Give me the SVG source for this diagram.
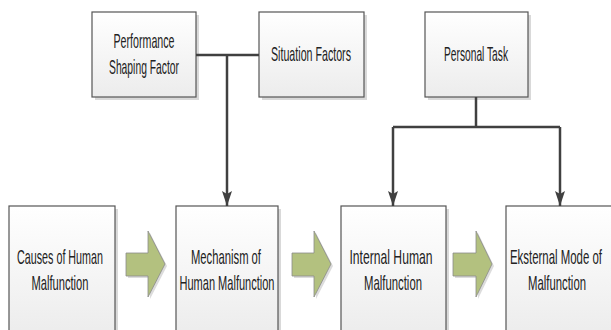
<svg xmlns="http://www.w3.org/2000/svg" width="611" height="330" viewBox="0 0 611 330">
<defs>
<linearGradient id="boxfill" x1="0" y1="0" x2="0" y2="1">
<stop offset="0" stop-color="#ffffff"/>
<stop offset="1" stop-color="#ececec"/>
</linearGradient>
<marker id="ahd" markerUnits="userSpaceOnUse" markerWidth="10" markerHeight="16" refX="5" refY="15" viewBox="0 0 10 16" orient="0">
<path d="M0,0 L5,3 L10,0 L5,15 Z" fill="#404040"/>
</marker>
</defs>
<style>
.box{fill:url(#boxfill);stroke:#555555;stroke-width:1.2}
.shadow{fill:#d9d9d9}
.lbl{font-family:"Liberation Sans",Arial,sans-serif;font-size:21px;fill:#222222;text-anchor:middle}
.conn{fill:none;stroke:#404040;stroke-width:2.5}
.garrow{fill:#b3c17f;stroke:#8a8a8a;stroke-width:0.8}
.gshadow{fill:#dcdcdc}
</style>
<rect width="611" height="330" fill="#ffffff"/>

<g id="performance-shaping-factor">
<rect class="shadow" x="95" y="15" width="104" height="85"/>
<rect class="box" x="92" y="12" width="104" height="85"/>
<text class="lbl" x="144" y="48" textLength="61" lengthAdjust="spacingAndGlyphs">Performance</text>
<text class="lbl" x="144" y="74" textLength="70" lengthAdjust="spacingAndGlyphs">Shaping Factor</text>
</g>

<g id="situation-factors">
<rect class="shadow" x="262" y="15" width="105" height="85"/>
<rect class="box" x="259" y="12" width="105" height="85"/>
<text class="lbl" x="311" y="61" textLength="80" lengthAdjust="spacingAndGlyphs">Situation Factors</text>
</g>

<g id="personal-task">
<rect class="shadow" x="428" y="15" width="103" height="85"/>
<rect class="box" x="425" y="12" width="103" height="85"/>
<text class="lbl" x="476" y="61" textLength="64" lengthAdjust="spacingAndGlyphs">Personal Task</text>
</g>

<g id="causes-of-human-malfunction">
<rect class="shadow" x="12" y="209" width="106" height="130"/>
<rect class="box" x="9" y="206" width="106" height="130"/>
<text class="lbl" x="60" y="264" textLength="86" lengthAdjust="spacingAndGlyphs">Causes of Human</text>
<text class="lbl" x="60" y="290" textLength="57" lengthAdjust="spacingAndGlyphs">Malfunction</text>
</g>

<g id="mechanism-of-human-malfunction">
<rect class="shadow" x="179" y="209" width="102" height="130"/>
<rect class="box" x="176" y="206" width="102" height="130"/>
<text class="lbl" x="226" y="264" textLength="70" lengthAdjust="spacingAndGlyphs">Mechanism of</text>
<text class="lbl" x="227" y="290" textLength="95" lengthAdjust="spacingAndGlyphs">Human Malfunction</text>
</g>

<g id="internal-human-malfunction">
<rect class="shadow" x="344" y="209" width="105" height="130"/>
<rect class="box" x="341" y="206" width="105" height="130"/>
<text class="lbl" x="391" y="264" textLength="83" lengthAdjust="spacingAndGlyphs">Internal Human</text>
<text class="lbl" x="393" y="290" textLength="58" lengthAdjust="spacingAndGlyphs">Malfunction</text>
</g>

<g id="eksternal-mode-of-malfunction">
<rect class="shadow" x="509" y="209" width="107" height="130"/>
<rect class="box" x="506" y="206" width="107" height="130"/>
<text class="lbl" x="556" y="264" textLength="92" lengthAdjust="spacingAndGlyphs">Eksternal Mode of</text>
<text class="lbl" x="557" y="290" textLength="58" lengthAdjust="spacingAndGlyphs">Malfunction</text>
</g>

<g id="flow-arrows">
<path class="gshadow" d="M128,255 H150 V233 L167,266 L150,299 V278 H128 Z"/>
<path class="garrow" d="M126,253 H148 V231 L165,264 L148,297 V276 H126 Z"/>
<path class="gshadow" d="M294,255 H316 V233 L333,266 L316,299 V278 H294 Z"/>
<path class="garrow" d="M292,253 H314 V231 L331,264 L314,297 V276 H292 Z"/>
<path class="gshadow" d="M455,255 H478 V233 L494,266 L478,299 V278 H455 Z"/>
<path class="garrow" d="M453,253 H476 V231 L492,264 L476,297 V276 H453 Z"/>
</g>

<g id="connectors">
<path class="conn" d="M196,55 H259"/>
<path class="conn" d="M227,55 V206" marker-end="url(#ahd)"/>
<path class="conn" d="M476,97 V127"/>
<path class="conn" d="M393,127 H560"/>
<path class="conn" d="M393,127 V206" marker-end="url(#ahd)"/>
<path class="conn" d="M560,127 V206" marker-end="url(#ahd)"/>
</g>
</svg>
